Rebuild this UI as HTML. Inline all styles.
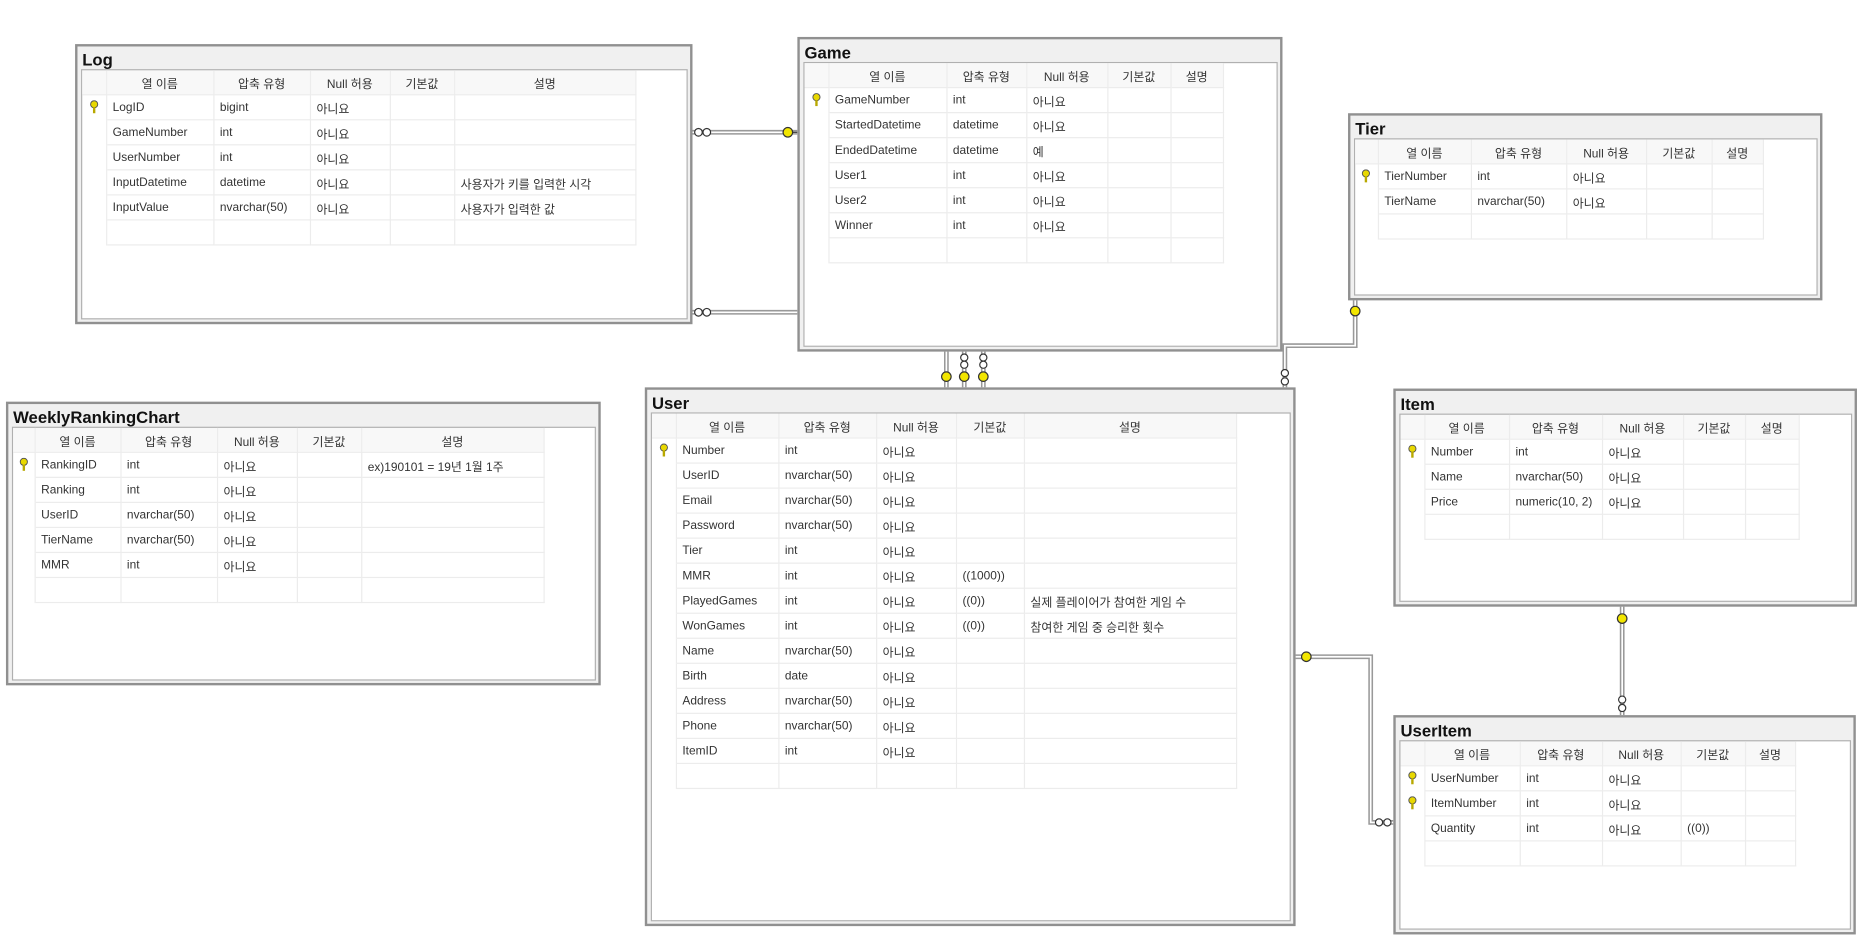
<!DOCTYPE html>
<html><head><meta charset="utf-8">
<style>
html,body{margin:0;padding:0;background:#fff;}
body{width:1863px;height:946px;overflow:hidden;position:relative;}
#w{position:absolute;left:0;top:0;width:1563px;height:794px;transform:scale(1.1919);transform-origin:0 0;font-family:"Liberation Sans","Noto Sans CJK KR",sans-serif;color:#333;}
.box{position:absolute;border:2px solid #909090;background:#f0f0f0;box-sizing:border-box;}
.box .t{position:absolute;left:4px;top:3px;font-weight:bold;font-size:14px;color:#111;}
.box .in{position:absolute;left:3px;top:19px;right:2px;bottom:2px;background:#fff;border:1px solid #b0b0b0;}
table{border-collapse:collapse;table-layout:fixed;font-size:10px;}
td{height:20px;border-right:1px solid #ececec;border-bottom:1px solid #ececec;padding:0 0 0 5px;white-space:nowrap;overflow:hidden;}
tr.h td{background:#f8f8f8;text-align:center;padding:0;}
td.k{padding:0;text-align:center;border-bottom:none;}
td.k svg{vertical-align:middle;}
svg.c{position:absolute;left:0;top:0;}
</style></head><body><div id="w">

<svg class="c" width="1563" height="794">
<g fill="none" stroke="#999" stroke-width="4">
<path d="M580 111H669"/><path d="M580 262H669"/>
<path d="M794 294V325"/><path d="M809 294V325"/><path d="M825 294V325"/>
<path d="M1137 251V290H1078V325"/>
<path d="M1086 551H1150V690H1169"/>
<path d="M1361 508V600"/>
</g>
<g fill="none" stroke="#fff" stroke-width="1.4">
<path d="M580 111H669"/><path d="M580 262H669"/>
<path d="M794 294V325"/><path d="M809 294V325"/><path d="M825 294V325"/>
<path d="M1137 251V290H1078V325"/>
<path d="M1086 551H1150V690H1169"/>
<path d="M1361 508V600"/>
</g>
<g fill="#fff" stroke="#333" stroke-width="1">
<circle cx="586" cy="111" r="3.2"/><circle cx="593" cy="111" r="3.2"/>
<circle cx="586" cy="262" r="3.2"/><circle cx="593" cy="262" r="3.2"/>
<circle cx="809" cy="300" r="3"/><circle cx="809" cy="306" r="3"/>
<circle cx="825" cy="300" r="3"/><circle cx="825" cy="306" r="3"/>
<circle cx="1078" cy="313" r="3"/><circle cx="1078" cy="320" r="3"/>
<circle cx="1157" cy="690" r="3"/><circle cx="1164" cy="690" r="3"/>
<circle cx="1361" cy="587" r="3"/><circle cx="1361" cy="594" r="3"/>
</g>
<g fill="#f2e600" stroke="#333" stroke-width="1">
<circle cx="661" cy="111" r="4"/><path d="M665 111H669" />
<circle cx="794" cy="316" r="4"/><circle cx="809" cy="316" r="4"/><circle cx="825" cy="316" r="4"/>
<circle cx="1137" cy="261" r="4"/>
<circle cx="1096" cy="551" r="4"/>
<circle cx="1361" cy="519" r="4"/>
</g>
</svg>

<!-- Log -->
<div class="box" style="left:63px;top:37px;width:518px;height:235px"><div class="t">Log</div><div class="in">
<table><colgroup><col width="20"><col width="90"><col width="81"><col width="67"><col width="54"><col width="152"></colgroup>
<tr class="h"><td></td><td>열 이름</td><td>압축 유형</td><td>Null 허용</td><td>기본값</td><td>설명</td></tr>
<tr><td class="k"><svg width="8" height="12"><circle cx="4" cy="3.5" r="3" fill="#e8d800" stroke="#555" stroke-width=".8"/><rect x="3" y="6" width="2" height="5" fill="#b8a800"/></svg></td><td>LogID</td><td>bigint</td><td>아니요</td><td></td><td></td></tr>
<tr><td class="k"></td><td>GameNumber</td><td>int</td><td>아니요</td><td></td><td></td></tr>
<tr><td class="k"></td><td>UserNumber</td><td>int</td><td>아니요</td><td></td><td></td></tr>
<tr><td class="k"></td><td>InputDatetime</td><td>datetime</td><td>아니요</td><td></td><td>사용자가 키를 입력한 시각</td></tr>
<tr><td class="k"></td><td>InputValue</td><td>nvarchar(50)</td><td>아니요</td><td></td><td>사용자가 입력한 값</td></tr>
<tr><td class="k"></td><td></td><td></td><td></td><td></td><td></td></tr>
</table></div></div>

<!-- Game -->
<div class="box" style="left:669px;top:31px;width:407px;height:264px"><div class="t">Game</div><div class="in">
<table><colgroup><col width="20"><col width="99"><col width="67"><col width="68"><col width="53"><col width="44"></colgroup>
<tr class="h"><td></td><td>열 이름</td><td>압축 유형</td><td>Null 허용</td><td>기본값</td><td>설명</td></tr>
<tr><td class="k"><svg width="8" height="12"><circle cx="4" cy="3.5" r="3" fill="#e8d800" stroke="#555" stroke-width=".8"/><rect x="3" y="6" width="2" height="5" fill="#b8a800"/></svg></td><td>GameNumber</td><td>int</td><td>아니요</td><td></td><td></td></tr>
<tr><td class="k"></td><td>StartedDatetime</td><td>datetime</td><td>아니요</td><td></td><td></td></tr>
<tr><td class="k"></td><td>EndedDatetime</td><td>datetime</td><td>예</td><td></td><td></td></tr>
<tr><td class="k"></td><td>User1</td><td>int</td><td>아니요</td><td></td><td></td></tr>
<tr><td class="k"></td><td>User2</td><td>int</td><td>아니요</td><td></td><td></td></tr>
<tr><td class="k"></td><td>Winner</td><td>int</td><td>아니요</td><td></td><td></td></tr>
<tr><td class="k"></td><td></td><td></td><td></td><td></td><td></td></tr>
</table></div></div>

<!-- Tier -->
<div class="box" style="left:1131px;top:95px;width:398px;height:157px"><div class="t">Tier</div><div class="in">
<table><colgroup><col width="19"><col width="78"><col width="80"><col width="67"><col width="55"><col width="43"></colgroup>
<tr class="h"><td></td><td>열 이름</td><td>압축 유형</td><td>Null 허용</td><td>기본값</td><td>설명</td></tr>
<tr><td class="k"><svg width="8" height="12"><circle cx="4" cy="3.5" r="3" fill="#e8d800" stroke="#555" stroke-width=".8"/><rect x="3" y="6" width="2" height="5" fill="#b8a800"/></svg></td><td>TierNumber</td><td>int</td><td>아니요</td><td></td><td></td></tr>
<tr><td class="k"></td><td>TierName</td><td>nvarchar(50)</td><td>아니요</td><td></td><td></td></tr>
<tr><td class="k"></td><td></td><td></td><td></td><td></td><td></td></tr>
</table></div></div>

<!-- WeeklyRankingChart -->
<div class="box" style="left:5px;top:337px;width:499px;height:238px"><div class="t">WeeklyRankingChart</div><div class="in">
<table><colgroup><col width="18"><col width="72"><col width="81"><col width="67"><col width="54"><col width="153"></colgroup>
<tr class="h"><td></td><td>열 이름</td><td>압축 유형</td><td>Null 허용</td><td>기본값</td><td>설명</td></tr>
<tr><td class="k"><svg width="8" height="12"><circle cx="4" cy="3.5" r="3" fill="#e8d800" stroke="#555" stroke-width=".8"/><rect x="3" y="6" width="2" height="5" fill="#b8a800"/></svg></td><td>RankingID</td><td>int</td><td>아니요</td><td></td><td>ex)190101 = 19년 1월 1주</td></tr>
<tr><td class="k"></td><td>Ranking</td><td>int</td><td>아니요</td><td></td><td></td></tr>
<tr><td class="k"></td><td>UserID</td><td>nvarchar(50)</td><td>아니요</td><td></td><td></td></tr>
<tr><td class="k"></td><td>TierName</td><td>nvarchar(50)</td><td>아니요</td><td></td><td></td></tr>
<tr><td class="k"></td><td>MMR</td><td>int</td><td>아니요</td><td></td><td></td></tr>
<tr><td class="k"></td><td></td><td></td><td></td><td></td><td></td></tr>
</table></div></div>

<!-- User -->
<div class="box" style="left:541px;top:325px;width:546px;height:452px"><div class="t">User</div><div class="in">
<table><colgroup><col width="20"><col width="86"><col width="82"><col width="67"><col width="57"><col width="178"></colgroup>
<tr class="h"><td></td><td>열 이름</td><td>압축 유형</td><td>Null 허용</td><td>기본값</td><td>설명</td></tr>
<tr><td class="k"><svg width="8" height="12"><circle cx="4" cy="3.5" r="3" fill="#e8d800" stroke="#555" stroke-width=".8"/><rect x="3" y="6" width="2" height="5" fill="#b8a800"/></svg></td><td>Number</td><td>int</td><td>아니요</td><td></td><td></td></tr>
<tr><td class="k"></td><td>UserID</td><td>nvarchar(50)</td><td>아니요</td><td></td><td></td></tr>
<tr><td class="k"></td><td>Email</td><td>nvarchar(50)</td><td>아니요</td><td></td><td></td></tr>
<tr><td class="k"></td><td>Password</td><td>nvarchar(50)</td><td>아니요</td><td></td><td></td></tr>
<tr><td class="k"></td><td>Tier</td><td>int</td><td>아니요</td><td></td><td></td></tr>
<tr><td class="k"></td><td>MMR</td><td>int</td><td>아니요</td><td>((1000))</td><td></td></tr>
<tr><td class="k"></td><td>PlayedGames</td><td>int</td><td>아니요</td><td>((0))</td><td>실제 플레이어가 참여한 게임 수</td></tr>
<tr><td class="k"></td><td>WonGames</td><td>int</td><td>아니요</td><td>((0))</td><td>참여한 게임 중 승리한 횟수</td></tr>
<tr><td class="k"></td><td>Name</td><td>nvarchar(50)</td><td>아니요</td><td></td><td></td></tr>
<tr><td class="k"></td><td>Birth</td><td>date</td><td>아니요</td><td></td><td></td></tr>
<tr><td class="k"></td><td>Address</td><td>nvarchar(50)</td><td>아니요</td><td></td><td></td></tr>
<tr><td class="k"></td><td>Phone</td><td>nvarchar(50)</td><td>아니요</td><td></td><td></td></tr>
<tr><td class="k"></td><td>ItemID</td><td>int</td><td>아니요</td><td></td><td></td></tr>
<tr><td class="k"></td><td></td><td></td><td></td><td></td><td></td></tr>
</table></div></div>

<!-- Item -->
<div class="box" style="left:1169px;top:326px;width:389px;height:183px"><div class="t">Item</div><div class="in">
<table><colgroup><col width="20"><col width="71"><col width="78"><col width="68"><col width="52"><col width="45"></colgroup>
<tr class="h"><td></td><td>열 이름</td><td>압축 유형</td><td>Null 허용</td><td>기본값</td><td>설명</td></tr>
<tr><td class="k"><svg width="8" height="12"><circle cx="4" cy="3.5" r="3" fill="#e8d800" stroke="#555" stroke-width=".8"/><rect x="3" y="6" width="2" height="5" fill="#b8a800"/></svg></td><td>Number</td><td>int</td><td>아니요</td><td></td><td></td></tr>
<tr><td class="k"></td><td>Name</td><td>nvarchar(50)</td><td>아니요</td><td></td><td></td></tr>
<tr><td class="k"></td><td>Price</td><td>numeric(10, 2)</td><td>아니요</td><td></td><td></td></tr>
<tr><td class="k"></td><td></td><td></td><td></td><td></td><td></td></tr>
</table></div></div>

<!-- UserItem -->
<div class="box" style="left:1169px;top:600px;width:388px;height:184px"><div class="t">UserItem</div><div class="in">
<table><colgroup><col width="20"><col width="80"><col width="69"><col width="66"><col width="54"><col width="42"></colgroup>
<tr class="h"><td></td><td>열 이름</td><td>압축 유형</td><td>Null 허용</td><td>기본값</td><td>설명</td></tr>
<tr><td class="k"><svg width="8" height="12"><circle cx="4" cy="3.5" r="3" fill="#e8d800" stroke="#555" stroke-width=".8"/><rect x="3" y="6" width="2" height="5" fill="#b8a800"/></svg></td><td>UserNumber</td><td>int</td><td>아니요</td><td></td><td></td></tr>
<tr><td class="k"><svg width="8" height="12"><circle cx="4" cy="3.5" r="3" fill="#e8d800" stroke="#555" stroke-width=".8"/><rect x="3" y="6" width="2" height="5" fill="#b8a800"/></svg></td><td>ItemNumber</td><td>int</td><td>아니요</td><td></td><td></td></tr>
<tr><td class="k"></td><td>Quantity</td><td>int</td><td>아니요</td><td>((0))</td><td></td></tr>
<tr><td class="k"></td><td></td><td></td><td></td><td></td><td></td></tr>
</table></div></div>

</div></body></html>
